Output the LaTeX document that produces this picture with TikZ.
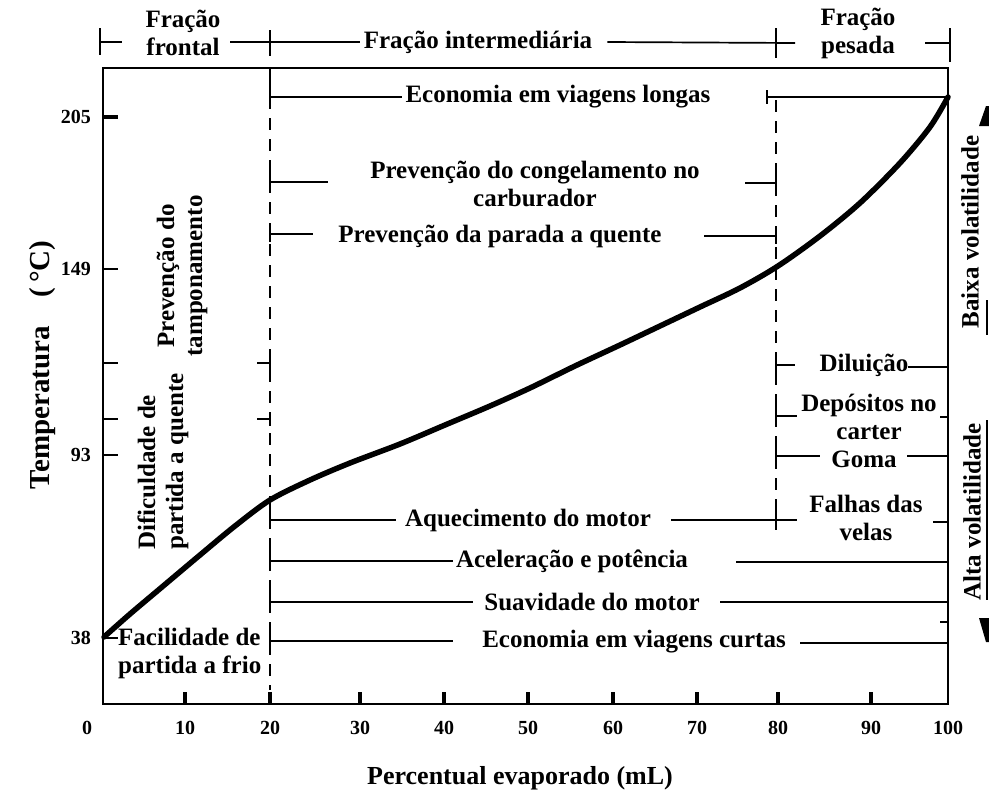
\documentclass[tikz,border=0pt]{standalone}
\usepackage{fontspec}
\setmainfont{Liberation Serif}
\begin{document}
\begin{tikzpicture}[x=1pt,y=-1pt,
  lbl/.style={font=\fontsize{25}{28}\selectfont\bfseries, inner sep=0pt},
  tlbl/.style={font=\fontsize{20}{24}\selectfont\bfseries, inner sep=0pt},
  ax/.style={line width=2.4pt},
  ln/.style={line width=1.7pt},
  tk/.style={line width=3.5pt},
  dsh/.style={line width=2.2pt, dash pattern=on 12pt off 9pt},
  crv/.style={line width=5.5pt, line cap=round, line join=round},
]
\useasboundingbox (0,0) rectangle (989,793);

% ---- plot frame
\coordinate (TL) at (103,68);
\coordinate (O) at (103,704);
\coordinate (BR) at (948,704);
\coordinate (TR) at (948,68);
\draw[ax] (TL) -- (O) -- (BR) -- (TR) -- cycle;

% ---- x ticks and labels
\node[tlbl] (x0) at (87,728) {0};
\foreach \xv/\lab in {185/10,270/20,360/30,444/40,528/50,613/60,697/70,778/80,871/90}{
  \draw[tk] (\xv,704) -- (\xv,692);
  \node[tlbl] (x\lab) at (\xv,728) {\lab};
}
\node[tlbl] (x100) at (948,728) {100};

% ---- y ticks and labels
\draw[line width=4pt] (103,117) -- (118,117);
\foreach \yv in {269,363,419,455,638}{ \draw[ln] (103,\yv) -- (118,\yv); }
\node[tlbl, anchor=east] (y205) at (91,117) {205};
\node[tlbl, anchor=east] (y149) at (91,269) {149};
\node[tlbl, anchor=east] (y93) at (91,455) {93};
\node[tlbl, anchor=east] (y38) at (91,638) {38};

% ---- axis titles
\node[font=\fontsize{29}{32}\selectfont\bfseries, inner sep=0pt, rotate=90] (ylab) at (43,365) {Temperatura\quad(\,°C)};
\node[font=\fontsize{26}{29}\selectfont\bfseries, inner sep=0pt] (xlab) at (520,778) {Percentual evaporado (mL)};

% ---- distillation curve
\draw[crv] plot[smooth, tension=0.5] coordinates {(104,637) (130,614) (162,587) (200,555) (235,526) (270,500) (310,480) (350,463) (400,444) (445,425) (490,406) (530,388) (575,366) (620,345) (660,326) (700,307) (740,288) (778,266) (820,236) (860,203) (900,163) (930,127) (948,97)};

% ---- dashed fraction limits
\coordinate (D20t) at (270,68);
\coordinate (D20m) at (270,97);
\coordinate (D20b) at (270,690);
\coordinate (D80t) at (776,100);
\coordinate (D80b) at (776,530);
\draw[ln] (D20t) -- (D20m);
\draw[dsh] (D20m) -- (D20b);
\draw[dsh] (D80t) -- (D80b);

% ---- header
\node[lbl, align=center] (ff) at (183,33) {Fração\\frontal};
\node[lbl] (fi) at (478,42) {Fração intermediária};
\node[lbl, align=center] (fp) at (858,33) {Fração\\pesada};
\draw[ln] (100,28) -- (100,55);
\draw[ln] (100,42) -- (122,42);
\draw[ln] (230,42) -- ([xshift=-4pt]fi.west);
\draw[ln] (270,30) -- (270,56);
\draw[ln] ([xshift=15pt]fi.east) -- (795,43);
\draw[ln] (776,28) -- (776,58);
\draw[ln] (925,43) -- (950,43);
\draw[ln] (950,28) -- (950,62);

% ---- upper annotations
\node[lbl] (el) at (558,97) {Economia em viagens longas};
\draw[ln] (D20m) -- ([xshift=-3pt]el.west);
\draw[ln] (767,97) -- (TR |- el);
\draw[ln] (767,90) -- (767,104);

\node[lbl, align=center] (cong) at (535,184) {Prevenção do congelamento no\\carburador};
\draw[ln] (270,164) -- (270,182) -- (328,182);
\draw[ln] (745,183) -- (776,183);
\draw[ln] (776,175) -- (776,191);

\node[lbl] (par) at (500,236) {Prevenção da parada a quente};
\draw[ln] (270,226) -- (270,242);
\draw[ln] (270,234) -- (313,234);
\draw[ln] (704,236) -- (776,236);
\draw[ln] (776,228) -- (776,244);

% ---- left rotated annotations
\node[lbl, rotate=90, align=center] (tamp) at (182,276) {Prevenção do\\tamponamento};
\node[lbl, rotate=90, align=left, anchor=west] (dif) at (163,550) {Dificuldade de\\partida a quente};
\draw[ln] (257,363) -- (270,363);
\draw[ln] (270,356) -- (270,370);
\draw[ln] (257,419) -- (270,419);
\draw[ln] (270,412) -- (270,426);

\node[lbl, align=left, anchor=north west] (fac) at (118,628) {Facilidade de\\partida a frio};

% ---- lower annotations
\node[lbl] (aq) at (528,520) {Aquecimento do motor};
\draw[ln] (270,506) -- (270,527);
\draw[ln] (270,520) -- ([xshift=-9pt]aq.west);
\draw[ln] (671,520) -- (797,520);
\draw[ln] (776,508) -- (776,527);
\draw[ln] (933,522) -- (948,522);

\node[lbl] (ac) at (572,561) {Aceleração e potência};
\draw[ln] (270,548) -- (270,566);
\draw[ln] (270,561) -- ([xshift=-3pt]ac.west);
\draw[ln] (736,562) -- (948,562);

\node[lbl] (su) at (592,602) {Suavidade do motor};
\draw[ln] (270,588) -- (270,607);
\draw[ln] (270,602) -- (473,602);
\draw[ln] (720,602) -- (948,602);

\node[lbl] (ec) at (634,642) {Economia em viagens curtas};
\draw[ln] (270,626) -- (270,646);
\draw[ln] (270,641) -- (453,641);
\draw[ln] (800,643) -- (948,643);
\draw[ln] (940,622) -- (948,622);

% ---- right annotations (heavy fraction)
\node[lbl] (dil) at (864,365) {Diluição};
\draw[ln] (776,382) -- (776,365) -- (795,365);
\draw[ln] (908,367) -- (948,367);

\node[lbl, align=center] (dep) at (869,417) {Depósitos no\\carter};
\draw[ln] (776,400) -- (776,416) -- (797,416);
\draw[ln] (940,417) -- (948,417);

\node[lbl] (gom) at (864,459) {Goma};
\draw[ln] (776,437) -- (776,456) -- (820,456);
\draw[ln] (907,456) -- (948,456);

\node[lbl, align=center] (fal) at (866,518) {Falhas das\\velas};

% ---- volatility arrows (cut at the page edge)
\node[lbl, rotate=90] (baixa) at (970,232) {Baixa volatilidade};
\node[lbl, rotate=90] (alta) at (972,512) {Alta volatilidade};
\fill (986,106) -- (979,126) -- (989,126) -- (989,106) -- cycle;
\fill (979,618) -- (989,618) -- (989,642) -- (986,642) -- cycle;
\draw[ln] (987,300) -- (987,335);
\draw[ln] (987,420) -- (987,600);
\end{tikzpicture}
\end{document}
